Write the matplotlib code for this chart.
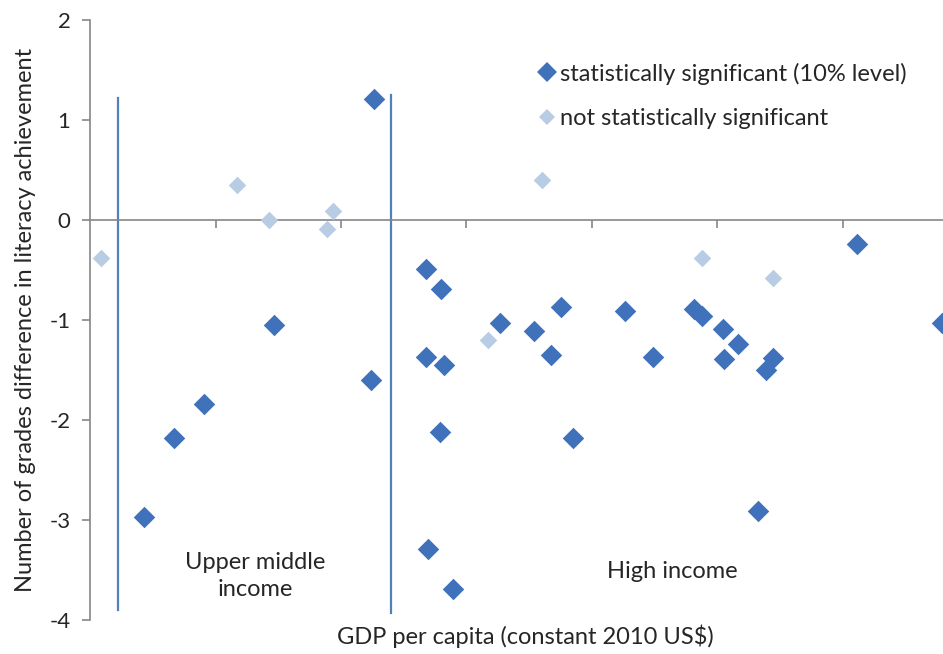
import matplotlib
matplotlib.use("Agg")
import matplotlib.pyplot as plt
from matplotlib.lines import Line2D

plt.rcParams['font.family'] = ['Lato', 'DejaVu Sans']
plt.rcParams['axes.unicode_minus'] = False

# GDP per capita (axis units, one tick = one unit) vs grade difference
sig_gdp = [2.26, 1.47, 2.24, 0.91, 0.67, 0.43, 2.69, 2.89, 5.32, 2.68,
           2.80, 2.68, 2.82, 2.79, 3.27, 3.54, 3.75, 3.67, 3.85, 4.26,
           4.49, 4.81, 4.88, 5.04, 5.16, 5.05, 5.44, 5.39, 6.11, 6.79]
sig_diff = [1.21, -1.05, -1.60, -1.84, -2.18, -2.97, -3.29, -3.69, -2.91, -0.49,
            -0.69, -1.37, -1.45, -2.12, -1.03, -1.11, -0.87, -1.35, -2.18, -0.91,
            -1.37, -0.89, -0.96, -1.09, -1.24, -1.39, -1.38, -1.50, -0.24, -1.03]

nonsig_gdp = [0.09, 1.17, 1.43, 1.94, 1.89, 3.60, 3.17, 4.88, 5.44]
nonsig_diff = [-0.38, 0.35, 0.00, 0.09, -0.09, 0.40, -1.20, -0.38, -0.58]

# income group boundaries and how far the divider lines reach
group_bounds = [0.223, 2.40]
bound_top = [1.215, 1.245]
bound_bottom = [-3.895, -3.93]

dark_blue = '#3f72ba'
light_blue = '#b8cce4'
axis_grey = '#868686'
text_col = '#262626'
fs = 17

fig = plt.figure(figsize=(9.43, 6.54), dpi=100)
ax = fig.add_axes([90 / 943, 34 / 654, 853 / 943, 600 / 654])

ax.scatter(nonsig_gdp, nonsig_diff, marker='D', s=80, color=light_blue,
           linewidths=0, zorder=3)
ax.scatter(sig_gdp, sig_diff, marker='D', s=120, color=dark_blue,
           linewidths=0, zorder=4)

for xb, yt, yb in zip(group_bounds, bound_top, bound_bottom):
    ax.plot([xb, xb], [yb, yt], color='#4f81bd', lw=1.6, zorder=2)

ax.set_xlim(0, 853 / 125.5)
ax.set_ylim(-4, 2)

# y axis on the left, x axis running through zero
for side in ['top', 'right']:
    ax.spines[side].set_visible(False)
ax.spines['left'].set_color(axis_grey)
ax.spines['left'].set_linewidth(1.2)
ax.spines['bottom'].set_position(('data', 0))
ax.spines['bottom'].set_color(axis_grey)
ax.spines['bottom'].set_linewidth(1.2)

ax.set_yticks(range(-4, 3))
ax.set_xticks(range(1, 7))
ax.tick_params(axis='y', direction='out', length=6, width=1.2, color=axis_grey,
               labelsize=16, labelcolor=text_col, pad=8)
ax.tick_params(axis='x', direction='out', length=6, width=1.2, color=axis_grey,
               labelbottom=False)

ax.set_ylabel('Number of grades difference in literacy achievement',
              fontsize=fs, color=text_col, labelpad=10)
fig.text(525 / 943, 1 - 636 / 654, 'GDP per capita (constant 2010 US\\$)',
         ha='center', va='center', fontsize=fs, color=text_col)

ax.text(1.32, -3.56, 'Upper middle\nincome', ha='center', va='center',
        fontsize=fs, color=text_col, linespacing=1.35)
ax.text(4.64, -3.51, 'High income', ha='center', va='center',
        fontsize=fs, color=text_col)

handles = [
    Line2D([], [], marker='D', ls='none', color=dark_blue, markersize=10,
           markeredgewidth=0, label='statistically significant (10% level)'),
    Line2D([], [], marker='D', ls='none', color=light_blue, markersize=8,
           markeredgewidth=0, label='not statistically significant'),
]
ax.legend(handles=handles, loc='upper left', bbox_to_anchor=(0.516, 0.945),
          frameon=False, fontsize=fs, handlelength=0.6, handletextpad=0.25,
          labelspacing=1.0, borderaxespad=0, labelcolor=text_col)

fig.savefig('out.png', dpi=100, facecolor='white')
